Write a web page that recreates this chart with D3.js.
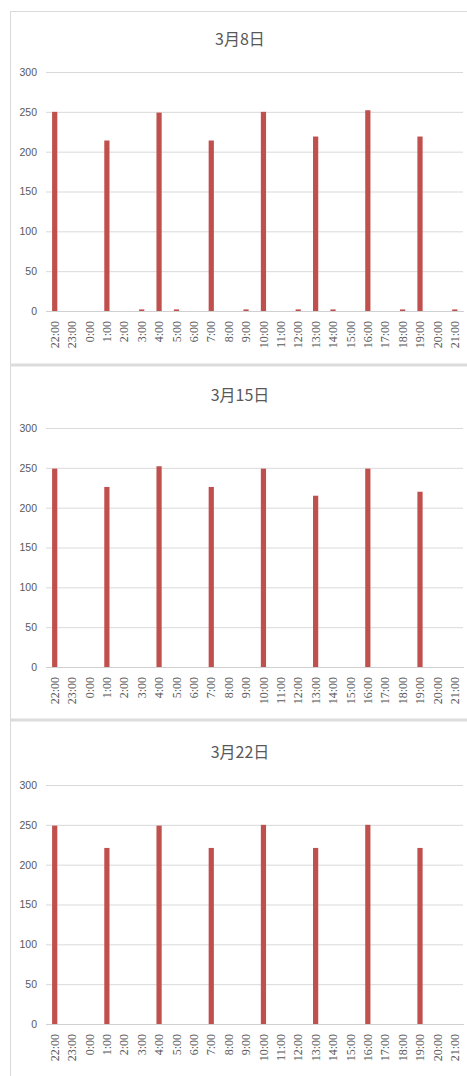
<!DOCTYPE html>
<html>
<head>
<meta charset="utf-8">
<script src="https://cdn.jsdelivr.net/npm/d3@7"></script>
<style>
  html, body { margin: 0; padding: 0; background: #fff; }
  svg { display: block; }
</style>
</head>
<body>
<svg id="chart" width="467" height="1076"></svg>
<script>
// Hourly slots, starting at 22:00 and wrapping round to 21:00
const hours = ["22:00","23:00","0:00","1:00","2:00","3:00","4:00","5:00","6:00","7:00","8:00","9:00",
               "10:00","11:00","12:00","13:00","14:00","15:00","16:00","17:00","18:00","19:00","20:00","21:00"];

const march8  = [250,0,0,214,0,2,249,2,0,214,0,2,250,0,2,219,2,0,252,0,2,219,0,2];
const march15 = [249,0,0,226,0,0,252,0,0,226,0,0,249,0,0,215,0,0,249,0,0,220,0,0];
const march22 = [249,0,0,221,0,0,249,0,0,221,0,0,250,0,0,221,0,0,250,0,0,221,0,0];

const titles = ["3月8日", "3月15日", "3月22日"];
const yTicks = [0, 50, 100, 150, 200, 250, 300];

const panels = [
  { title: titles[0], values: march8,  top: 11,  base: 311 },
  { title: titles[1], values: march15, top: 365, base: 667 },
  { title: titles[2], values: march22, top: 720, base: 1024 }
];

const svg = d3.select("#chart");
const W = 467;
const textColor = "#595959";
const barColor = "#C0504D";
const gridColor = "#d9d9d9";

const x = d3.scaleBand().domain(hours).range([46, 463.5]).paddingInner(0.7).paddingOuter(0.35);

// outer frame: left and top edges
svg.append("line").attr("x1", 10.5).attr("x2", 10.5).attr("y1", 11).attr("y2", 1076)
  .attr("stroke", "#d9d9d9").attr("stroke-width", 1);
svg.append("line").attr("x1", 10).attr("x2", W).attr("y1", 11.5).attr("y2", 11.5)
  .attr("stroke", "#d9d9d9").attr("stroke-width", 1);

panels.forEach((p, i) => {
  const g = svg.append("g");
  const zeroY = p.base;
  const y = d3.scaleLinear().domain([0, 300]).range([zeroY, zeroY - 239]);

  // separator between stacked panels
  if (i > 0) {
    g.append("line").attr("x1", 10).attr("x2", W).attr("y1", p.top).attr("y2", p.top)
      .attr("stroke", "#dcdcdc").attr("stroke-width", 3);
  }

  g.append("text")
    .attr("x", 240).attr("y", zeroY - 266)
    .attr("text-anchor", "middle")
    .attr("font-family", "'Noto Sans CJK SC', 'Noto Sans', sans-serif")
    .attr("font-size", 16)
    .attr("fill", textColor)
    .text(p.title);

  // y gridlines and labels
  const yAxis = d3.axisLeft(y).tickValues(yTicks).tickSize(-(463 - 46)).tickPadding(9);
  const ya = g.append("g").attr("transform", "translate(46,0)").call(yAxis);
  ya.select(".domain").remove();
  ya.selectAll(".tick line").attr("stroke", gridColor);
  ya.selectAll(".tick text")
    .attr("fill", textColor)
    .attr("font-family", "'Liberation Sans', Arial, sans-serif")
    .attr("font-size", 10.5);

  // bars
  g.selectAll("rect.bar").data(p.values.map((v, k) => ({ h: hours[k], v })))
    .join("rect")
    .attr("class", "bar")
    .attr("x", d => x(d.h))
    .attr("width", x.bandwidth())
    .attr("y", d => y(d.v))
    .attr("height", d => y(0) - y(d.v))
    .attr("fill", barColor);

  // category axis with rotated hour labels
  const xAxis = d3.axisBottom(x).tickSize(0).tickPadding(0);
  const xa = g.append("g").attr("transform", `translate(0,${zeroY})`).call(xAxis);
  xa.select(".domain").attr("stroke", "#d0d0d0");
  xa.selectAll(".tick text")
    .attr("fill", textColor)
    .attr("font-family", "'Liberation Serif', 'DejaVu Serif', serif")
    .attr("font-size", 12)
    .attr("text-anchor", "end")
    .attr("dy", "0.35em")
    .attr("transform", "translate(0,10) rotate(-90)")
    .attr("x", 0).attr("y", 0);
});
</script>
</body>
</html>
